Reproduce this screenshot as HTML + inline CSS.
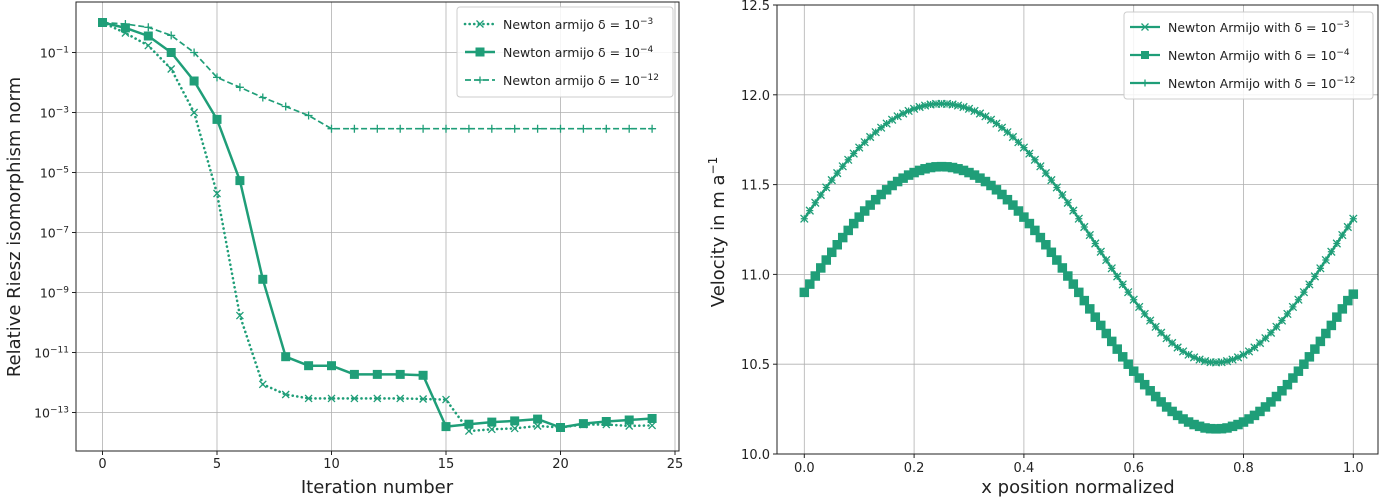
<!DOCTYPE html>
<html><head><meta charset="utf-8"><style>
body{margin:0;background:#fff;}
svg{display:block;font-family:"DejaVu Sans","Liberation Sans",sans-serif;}
</style></head><body>
<svg id="fig" width="1382" height="504" viewBox="0 0 1382 504"></svg>
<script>
// ---- Left chart data (log10 of relative Riesz isomorphism norm) ----
const iterations = [0,1,2,3,4,5,6,7,8,9,10,11,12,13,14,15,16,17,18,19,20,21,22,23,24];
const logNormD3 = [0,-0.35,-0.77,-1.55,-3.0,-5.7,-9.77,-12.06,-12.4,-12.53,-12.53,-12.53,-12.53,-12.53,-12.55,-12.57,-13.62,-13.56,-13.53,-13.45,-13.5,-13.4,-13.4,-13.45,-13.43];
const logNormD4 = [0,-0.18,-0.45,-1.0,-1.95,-3.23,-5.27,-8.56,-11.14,-11.44,-11.44,-11.73,-11.73,-11.73,-11.76,-13.47,-13.39,-13.32,-13.28,-13.22,-13.5,-13.37,-13.3,-13.25,-13.2];
const logNormD12 = [0,-0.05,-0.16,-0.43,-1.0,-1.83,-2.16,-2.5,-2.8,-3.1,-3.54,-3.54,-3.54,-3.54,-3.54,-3.54,-3.54,-3.54,-3.54,-3.54,-3.54,-3.54,-3.54,-3.54,-3.54];
const leftXTicks = [0,5,10,15,20,25];
const leftYTickExps = [-1,-3,-5,-7,-9,-11,-13];
// ---- Right chart data (velocity) ----
const velUpper = [11.31,11.355,11.399,11.442,11.484,11.525,11.564,11.602,11.638,11.673,11.706,11.736,11.765,11.792,11.817,11.840,11.861,11.880,11.896,11.910,11.922,11.932,11.940,11.946,11.949,11.950,
11.949,11.946,11.940,11.932,11.922,11.910,11.896,11.880,11.861,11.840,11.817,11.792,11.765,11.736,11.706,11.673,11.638,11.602,11.564,11.525,11.484,11.442,11.399,11.355,11.31,
11.264,11.219,11.172,11.126,11.080,11.034,10.989,10.944,10.901,10.859,10.819,10.780,10.743,10.708,10.675,10.645,10.618,10.593,10.571,10.553,10.538,10.526,10.517,10.511,10.510,
10.511,10.517,10.526,10.538,10.553,10.571,10.593,10.618,10.645,10.675,10.708,10.743,10.780,10.819,10.859,10.901,10.944,10.989,11.034,11.080,11.126,11.172,11.219,11.264,11.31];
const velLower = [10.900,10.946,10.991,11.036,11.080,11.123,11.165,11.205,11.245,11.283,11.319,11.353,11.386,11.416,11.445,11.471,11.495,11.517,11.536,11.553,11.567,11.579,11.588,11.595,11.599,11.600,
11.599,11.595,11.588,11.579,11.567,11.553,11.536,11.517,11.495,11.471,11.445,11.416,11.386,11.353,11.319,11.283,11.245,11.205,11.165,11.123,11.080,11.036,10.991,10.946,10.900,
10.854,10.808,10.762,10.716,10.671,10.627,10.584,10.541,10.500,10.461,10.423,10.386,10.352,10.320,10.290,10.262,10.237,10.215,10.195,10.178,10.164,10.154,10.145,10.141,10.140,
10.141,10.145,10.154,10.164,10.178,10.195,10.215,10.237,10.262,10.290,10.320,10.352,10.386,10.423,10.461,10.500,10.541,10.584,10.627,10.671,10.716,10.762,10.808,10.854,10.890];
const velD12 = velUpper.slice();
const rightXTicks = [0.0,0.2,0.4,0.6,0.8,1.0];
const rightYTicks = [10.0,10.5,11.0,11.5,12.0,12.5];

const NS="http://www.w3.org/2000/svg", C="#1f9e78";
const svg=document.getElementById('fig');
function mk(tag,attrs,parent){const e=document.createElementNS(NS,tag);for(const k in attrs)e.setAttribute(k,attrs[k]);(parent||svg).appendChild(e);return e;}

const lx=i=>102.5+i*22.9, ly=e=>52.5+(-1-e)*30;
const rx=v=>804.3+v*549, ry=v=>454-(v-10)*179.6;

function marker(g,type,x,y,s){
  if(type==='sq'){const r=mk('rect',{x:x-s/2,y:y-s/2,width:s,height:s,fill:C},g);}
  else if(type==='x'){const p=mk('path',{d:`M${x-s/2},${y-s/2}L${x+s/2},${y+s/2}M${x-s/2},${y+s/2}L${x+s/2},${y-s/2}`,stroke:C,'stroke-width':1.3,fill:'none'},g);}
  else {const p=mk('path',{d:`M${x-s/2},${y}L${x+s/2},${y}M${x},${y-s/2}L${x},${y+s/2}`,stroke:C,'stroke-width':1.3,fill:'none'},g);}
}
function series(name,xs,ys,fx,fy,dash,width,mtype,ms){
  const g=mk('g',{});
  
  
  const pts=xs.map((v,i)=>fx(v).toFixed(2)+','+fy(ys[i]).toFixed(2)).join(' ');
  const a={points:pts,fill:'none',stroke:C,'stroke-width':width,'stroke-linejoin':'round'};
  if(dash){a['stroke-dasharray']=dash; if(dash.startsWith('0.1'))a['stroke-linecap']='round';}
  const pl=mk('polyline',a,g);
  
  
  xs.forEach((v,i)=>marker(g,mtype,fx(v),fy(ys[i]),ms));
}
function text(str,x,y,attrs,name){const t=mk('text',Object.assign({x:x,y:y,fill:'#222'},attrs||{}));t.textContent=str;return t;}
function sup(base,exp,x,y,anchor,size,name){
  const t=mk('text',{x:x,y:y,'text-anchor':anchor,'font-size':size,fill:'#222'});
  
  
  const a=mk('tspan',{},t);a.textContent=base;
  const b=mk('tspan',{dy:-size*0.4,'font-size':size*0.72},t);b.textContent=exp;
  return t;
}

// ===== LEFT CHART =====
const LX0=76,LX1=679,LY0=2,LY1=451;
leftXTicks.forEach(v=>{const l=mk('line',{x1:lx(v),x2:lx(v),y1:LY0,y2:LY1,stroke:'#b0b0b0','stroke-width':0.8});
 mk('line',{x1:lx(v),x2:lx(v),y1:LY1,y2:LY1+4,stroke:'#222'});
 text(String(v),lx(v),468,{'text-anchor':'middle','font-size':13},'left-x-tick-label');});
leftYTickExps.forEach(e=>{const l=mk('line',{x1:LX0,x2:LX1,y1:ly(e),y2:ly(e),stroke:'#b0b0b0','stroke-width':0.8});
 mk('line',{x1:LX0-4,x2:LX0,y1:ly(e),y2:ly(e),stroke:'#222'});
 sup('10','\u2212'+(-e),LX0-7,ly(e)+5,'end',12.5,'left-y-tick-label');});
series('series-delta-1e-3',iterations,logNormD3,lx,ly,'0.1,4.5',2.6,'x',7);
series('series-delta-1e-4',iterations,logNormD4,lx,ly,null,2.5,'sq',9);
series('series-delta-1e-12',iterations,logNormD12,lx,ly,'6,3',1.7,'plus',8);
const lf=mk('rect',{x:LX0,y:LY0,width:LX1-LX0,height:LY1-LY0,fill:'none',stroke:'#222','stroke-width':1});

text('Iteration number',377,493,{'text-anchor':'middle','font-size':18},'left-x-axis-title');
text('Relative Riesz isomorphism norm',0,0,{'text-anchor':'middle','font-size':18,transform:'translate(20,227) rotate(-90)'},'left-y-axis-title');
const lg=mk('g',{});
mk('rect',{x:457,y:7,width:216,height:90,rx:3,fill:'#fff','fill-opacity':0.85,stroke:'#ccc'},lg);
[['0.1,4.5','x','\u22123',2.6],[null,'sq','\u22124',2.5],['6,3','plus','\u221212',1.7]].forEach((d,i)=>{
 const y=24+i*28;const a={x1:465,x2:495,y1:y,y2:y,stroke:C,'stroke-width':d[3]};if(d[0]){a['stroke-dasharray']=d[0];if(d[1]==='x')a['stroke-linecap']='round';}mk('line',a,lg);
 marker(lg,d[1],480,y,d[1]==='sq'?9:7);
 const t=mk('text',{x:503,y:y+5,'font-size':12.5,fill:'#222'},lg);
 const a1=mk('tspan',{},t);a1.textContent='Newton armijo \u03B4 = 10';const b=mk('tspan',{dy:-5,'font-size':9},t);b.textContent=d[2];});

// ===== RIGHT CHART =====
const RX0=777,RX1=1378,RY0=5,RY1=454;
rightXTicks.forEach(v=>{const l=mk('line',{x1:rx(v),x2:rx(v),y1:RY0,y2:RY1,stroke:'#b0b0b0','stroke-width':0.8});
 mk('line',{x1:rx(v),x2:rx(v),y1:RY1,y2:RY1+4,stroke:'#222'});
 text(v.toFixed(1),rx(v),472,{'text-anchor':'middle','font-size':13},'right-x-tick-label');});
rightYTicks.forEach(v=>{const l=mk('line',{x1:RX0,x2:RX1,y1:ry(v),y2:ry(v),stroke:'#b0b0b0','stroke-width':0.8});
 mk('line',{x1:RX0-4,x2:RX0,y1:ry(v),y2:ry(v),stroke:'#222'});
 text(v.toFixed(1),RX0-7,ry(v)+5,{'text-anchor':'end','font-size':13},'right-y-tick-label');});
const xpos=velUpper.map((_,i)=>i/100);
series('velocity-delta-1e-3',xpos,velUpper,rx,ry,null,2.2,'x',7.5);
series('velocity-delta-1e-4',xpos,velLower,rx,ry,null,2.2,'sq',9.5);
series('velocity-delta-1e-12',xpos,velD12,rx,ry,null,2.2,'plus',7);
const rf=mk('rect',{x:RX0,y:RY0,width:RX1-RX0,height:RY1-RY0,fill:'none',stroke:'#222','stroke-width':1});

text('x position normalized',1078,493,{'text-anchor':'middle','font-size':18},'right-x-axis-title');
const yt=mk('text',{x:0,y:0,'text-anchor':'middle','font-size':18,fill:'#222',transform:'translate(724,232) rotate(-90)'});

const y1=mk('tspan',{},yt);y1.textContent='Velocity in m a';const y2=mk('tspan',{dy:-7,'font-size':12},yt);y2.textContent='\u22121';
const rg=mk('g',{});
mk('rect',{x:1124,y:12,width:249,height:87,rx:3,fill:'#fff','fill-opacity':0.85,stroke:'#ccc'},rg);
[['x','\u22123'],['sq','\u22124'],['plus','\u221212']].forEach((d,i)=>{
 const y=27+i*28;mk('line',{x1:1130,x2:1160,y1:y,y2:y,stroke:C,'stroke-width':2.2},rg);
 marker(rg,d[0],1145,y,d[0]==='sq'?8:7);
 const t=mk('text',{x:1168,y:y+5,'font-size':12.5,fill:'#222'},rg);
 const a1=mk('tspan',{},t);a1.textContent='Newton Armijo with \u03B4 = 10';const b=mk('tspan',{dy:-5,'font-size':9},t);b.textContent=d[1];});
</script>
</body></html>
